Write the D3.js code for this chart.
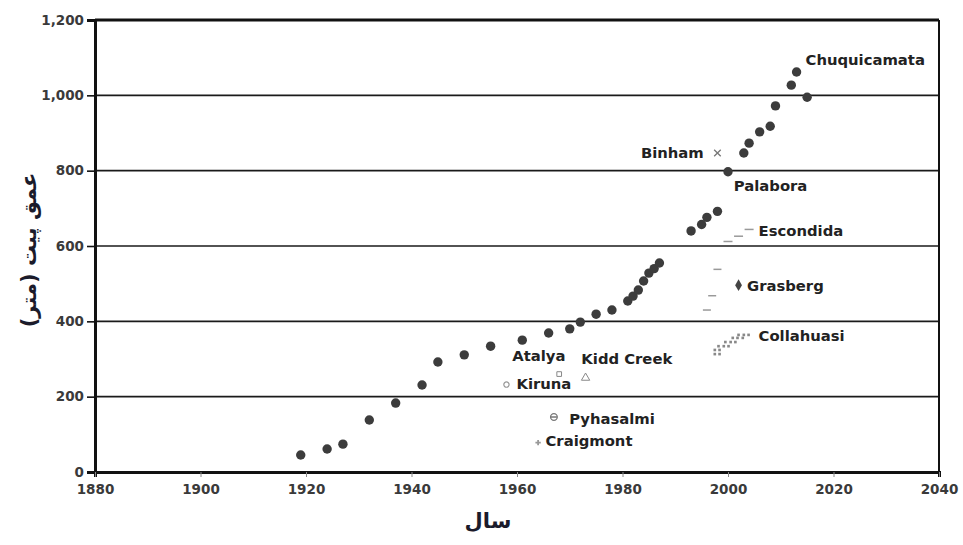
<!DOCTYPE html>
<html>
<head>
<meta charset="utf-8">
<script src="https://cdn.jsdelivr.net/npm/d3@7"></script>
<style>
  body { margin: 0; background: #fff; }
  svg { display: block; }
  .tick text { font-family: "DejaVu Sans", sans-serif; font-weight: bold; font-size: 13.5px; fill: #3a3a3a; }
  .lbl { font-family: "DejaVu Sans", sans-serif; font-weight: bold; font-size: 14.8px; fill: #222; }
  .ttl { font-family: "DejaVu Sans", sans-serif; font-weight: bold; font-size: 21px; fill: #1b1b2b; }
</style>
</head>
<body>
<svg id="chart"></svg>
<script>
// main series (dark dots)
const mainYears  = [1919, 1924, 1927, 1932, 1937, 1942, 1945, 1950, 1955, 1961, 1966, 1970, 1972, 1975, 1978, 1981, 1982, 1983, 1984, 1985, 1986, 1987, 1993, 1995, 1996, 1998, 2000, 2003, 2004, 2006, 2008, 2009, 2012, 2013, 2015];
const mainDepths = [45, 61, 74, 138, 183, 231, 292, 311, 334, 350, 369, 380, 398, 419, 430, 454, 467, 483, 507, 528, 540, 555, 640, 657, 676, 692, 797, 847, 873, 903, 918, 972, 1027, 1062, 995];

const binhamYears = [1998], binhamDepths = [847];
const escondidaYears = [2000, 2002, 2004], escondidaDepths = [612, 626, 644];
const grasbergDashYears = [1996, 1997, 1998], grasbergDashDepths = [430, 468, 538];
const grasbergYears = [2002], grasbergDepths = [496];
const collahuasiYears  = [1997.5, 1998.4, 1997.5, 1998.4, 1998.2, 1999.2, 2000.1, 1999.5, 2000.5, 2001.4, 2000.9, 2001.8, 2002.8, 2002.0, 2003.0, 2003.9];
const collahuasiDepths = [313, 313, 324, 324, 334, 334, 334, 345, 345, 345, 356, 356, 356, 364, 364, 364];
const atalyaYears = [1968], atalyaDepths = [260];
const kiddYears = [1973], kiddDepths = [250];
const kirunaYears = [1958], kirunaDepths = [232];
const pyhaYears = [1967], pyhaDepths = [146];
const craigYears = [1964], craigDepths = [78];

const labelNames  = ["Chuquicamata", "Binham", "Palabora", "Escondida", "Grasberg", "Collahuasi", "Atalya", "Kidd Creek", "Kiruna", "Pyhasalmi", "Craigmont"];
const labelYears  = [2014.7, 1995.4, 2001.1, 2005.8, 2003.6, 2005.8, 1959.1, 1972.2, 1959.9, 1969.9, 1965.4];
const labelDepths = [1094, 847, 759, 642, 496, 361, 308, 300, 234, 141, 82];

const xTicks = d3.range(1880, 2041, 20);
const yTicks = d3.range(0, 1201, 200);

const W = 963, H = 545;
const margin = { top: 20, right: 24, bottom: 73, left: 95 };
const width = W - margin.left - margin.right;
const height = H - margin.top - margin.bottom;

const svg = d3.select("#chart").attr("width", W).attr("height", H);
const g = svg.append("g").attr("transform", "translate(" + margin.left + "," + margin.top + ")");

const x = d3.scaleLinear().domain([1880, 2040]).range([0, width]);
const y = d3.scaleLinear().domain([0, 1200]).range([height, 0]);

// gridlines
g.append("g")
  .selectAll("line")
  .data(yTicks.filter(d => d > 0 && d < 1200))
  .enter().append("line")
  .attr("x1", 0).attr("x2", width)
  .attr("y1", d => y(d)).attr("y2", d => y(d))
  .style("stroke", "#1a1a1a").style("stroke-width", 1.6);

// frame: top + right
g.append("line").attr("x1", 0).attr("x2", width).attr("y1", y(1200)).attr("y2", y(1200))
  .style("stroke", "#111").style("stroke-width", 3);
g.append("line").attr("x1", width).attr("x2", width).attr("y1", 0).attr("y2", height)
  .style("stroke", "#111").style("stroke-width", 2);

// axes
const yAxis = g.append("g")
  .call(d3.axisLeft(y).tickValues(yTicks).tickFormat(d3.format(",")).tickSize(8).tickPadding(3));
yAxis.select(".domain").style("stroke", "#111").style("stroke-width", 3);
yAxis.selectAll(".tick line").style("stroke", "#111").style("stroke-width", 1.6);

const xAxis = g.append("g")
  .attr("transform", "translate(0," + height + ")")
  .call(d3.axisBottom(x).tickValues(xTicks).tickFormat(d3.format("d")).tickSize(5).tickPadding(7));
xAxis.select(".domain").style("stroke", "#111").style("stroke-width", 3);
xAxis.selectAll(".tick line").style("stroke", "#888").style("stroke-width", 1);

function zip(xs, ys) { return xs.map((v, i) => [v, ys[i]]); }

// main dots
g.append("g").selectAll("circle")
  .data(zip(mainYears, mainDepths))
  .enter().append("circle")
  .attr("cx", d => x(d[0])).attr("cy", d => y(d[1]))
  .attr("r", 4.7)
  .style("fill", "#3c3c3c");

function symbols(data, type, size, fill, stroke, sw) {
  g.append("g").selectAll("path")
    .data(data)
    .enter().append("path")
    .attr("transform", d => "translate(" + x(d[0]) + "," + y(d[1]) + ")")
    .attr("d", d3.symbol().type(type).size(size))
    .style("fill", fill).style("stroke", stroke).style("stroke-width", sw);
}

function dashes(data, len, color) {
  g.append("g").selectAll("line")
    .data(data)
    .enter().append("line")
    .attr("x1", d => x(d[0]) - len / 2).attr("x2", d => x(d[0]) + len / 2)
    .attr("y1", d => y(d[1])).attr("y2", d => y(d[1]))
    .style("stroke", color).style("stroke-width", 1.5);
}

symbols(zip(binhamYears, binhamDepths), d3.symbolX, 30, "none", "#777", 1.3);
dashes(zip(escondidaYears, escondidaDepths), 9, "#999");
dashes(zip(grasbergDashYears, grasbergDashDepths), 8, "#999");
symbols(zip(grasbergYears, grasbergDepths), d3.symbolDiamond, 40, "#444", "none", 0);
symbols(zip(collahuasiYears, collahuasiDepths), d3.symbolSquare, 7, "#888", "none", 0);
symbols(zip(atalyaYears, atalyaDepths), d3.symbolSquare, 22, "none", "#888", 1);
symbols(zip(kiddYears, kiddDepths), d3.symbolTriangle, 30, "none", "#888", 1);
symbols(zip(kirunaYears, kirunaDepths), d3.symbolCircle, 22, "none", "#999", 1.2);
symbols(zip(pyhaYears, pyhaDepths), d3.symbolCircle, 35, "none", "#777", 1.3);
dashes(zip(pyhaYears, pyhaDepths), 6, "#777");
symbols(zip(craigYears, craigDepths), d3.symbolCross, 16, "#999", "none", 0);

// site labels
g.append("g").selectAll("text")
  .data(labelNames)
  .enter().append("text")
  .attr("class", "lbl")
  .attr("x", (d, i) => x(labelYears[i]))
  .attr("y", (d, i) => y(labelDepths[i]))
  .attr("dy", "0.36em")
  .attr("text-anchor", d => d === "Binham" ? "end" : "start")
  .text(d => d);

// axis titles
svg.append("text")
  .attr("class", "ttl")
  .attr("transform", "translate(29,250) rotate(-90)")
  .attr("text-anchor", "middle")
  .attr("dy", "0.35em")
  .text("عمق پیت (متر)");

svg.append("text")
  .attr("class", "ttl")
  .attr("x", 488).attr("y", 521)
  .attr("text-anchor", "middle")
  .attr("dy", "0.35em")
  .text("سال");
</script>
</body>
</html>
